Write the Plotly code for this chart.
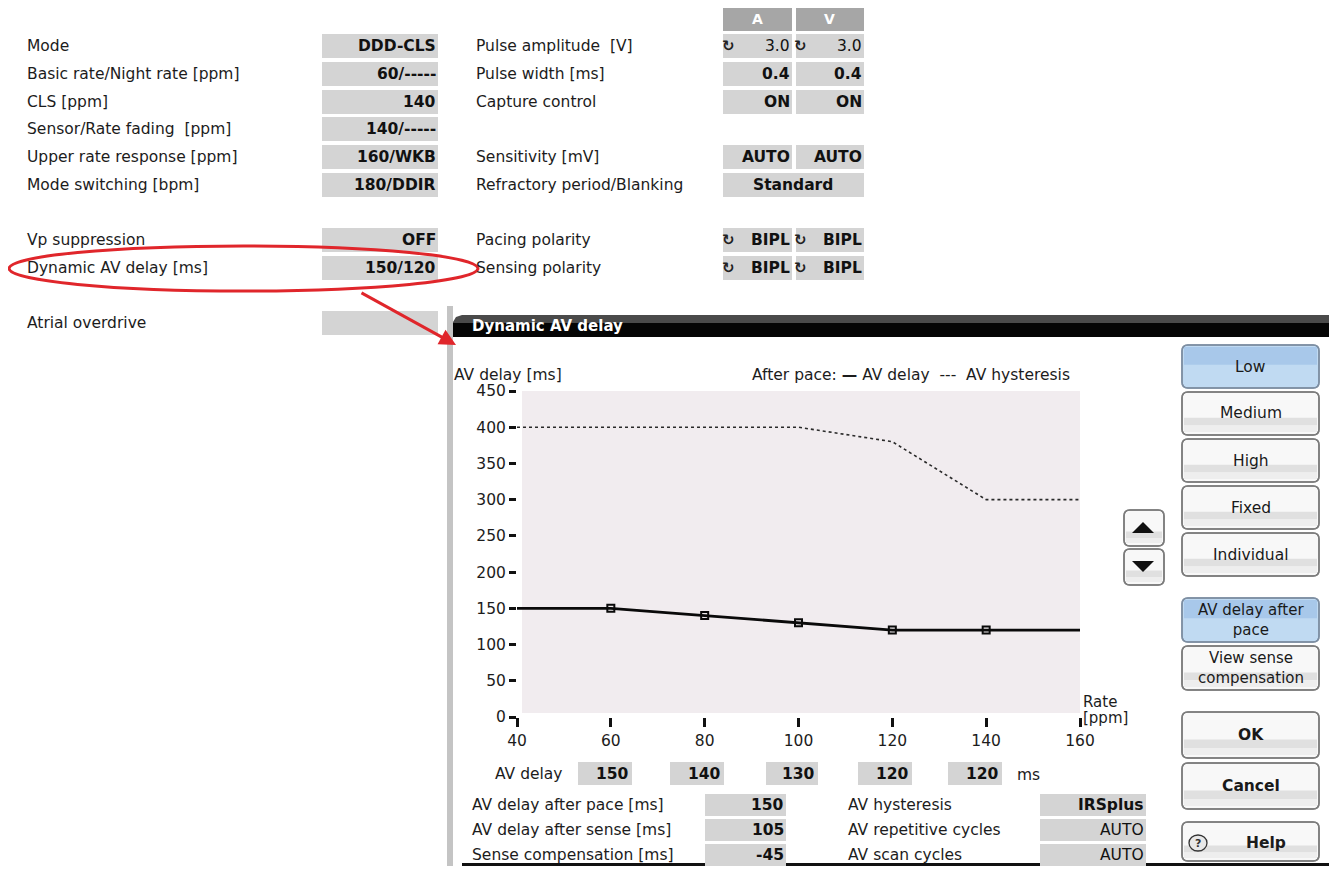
import plotly.graph_objects as go

# reference screenshot size is 1337x875; the page body has an 8px margin,
# so the figure is made 16px smaller and all reference pixels are shifted by 8.
REF_W, REF_H = 1337, 875
OX, OY = 8, 8
W, H = REF_W - 2 * OX, REF_H - 2 * OY - 1
FONT = "DejaVu Sans"
FS = 15.5

# ---------------- data ----------------
rates = [40, 60, 80, 100, 120, 140, 160]
av_delay = [150, 150, 140, 130, 120, 120, 120]
av_hysteresis = [400, 400, 400, 400, 380, 300, 300]
marker_rates = [60, 80, 100, 120, 140]

left_labels = ["Mode", "Basic rate/Night rate [ppm]", "CLS [ppm]", "Sensor/Rate fading  [ppm]",
               "Upper rate response [ppm]", "Mode switching [bpm]", "Vp suppression",
               "Dynamic AV delay [ms]", "Atrial overdrive"]
left_values = ["DDD-CLS", "60/-----", "140", "140/-----", "160/WKB", "180/DDIR", "OFF", "150/120", ""]
left_rows_y = [46, 74, 102, 129, 157, 185, 240, 268, 323]

mid_labels = ["Pulse amplitude  [V]", "Pulse width [ms]", "Capture control", "Sensitivity [mV]",
              "Refractory period/Blanking", "Pacing polarity", "Sensing polarity"]
mid_a = ["3.0", "0.4", "ON", "AUTO", "Standard", "BIPL", "BIPL"]
mid_v = ["3.0", "0.4", "ON", "AUTO", None, "BIPL", "BIPL"]
mid_bold = [False, True, True, True, True, True, True]
mid_icon = [True, False, False, False, False, True, True]
mid_rows_y = [46, 74, 102, 157, 185, 240, 268]

bottom_left_labels = ["AV delay after pace [ms]", "AV delay after sense [ms]", "Sense compensation [ms]"]
bottom_left_values = ["150", "105", "-45"]
bottom_right_labels = ["AV hysteresis", "AV repetitive cycles", "AV scan cycles"]
bottom_right_values = ["IRSplus", "AUTO", "AUTO"]
bottom_right_bold = [True, False, False]

buttons = ["Low", "Medium", "High", "Fixed", "Individual"]
view_buttons = ["AV delay after<br>pace", "View sense<br>compensation"]

# ---------------- helpers ----------------
def X(x):
    return (x - OX) / W

def Y(y):
    return 1 - (y - OY) / H

shapes = []
annotations = []

def rect(x0, y0, x1, y1, fill, line=None, lw=0, layer="below"):
    shapes.append(dict(type="rect", xref="paper", yref="paper", x0=X(x0), x1=X(x1), y0=Y(y1), y1=Y(y0),
                       fillcolor=fill, line=dict(color=line or fill, width=lw), layer=layer))

def rrect(x0, y0, x1, y1, r, fill, line, lw=1.5, layer="below"):
    p = (f"M {X(x0 + r)},{Y(y0)} L {X(x1 - r)},{Y(y0)} Q {X(x1)},{Y(y0)} {X(x1)},{Y(y0 + r)} "
         f"L {X(x1)},{Y(y1 - r)} Q {X(x1)},{Y(y1)} {X(x1 - r)},{Y(y1)} "
         f"L {X(x0 + r)},{Y(y1)} Q {X(x0)},{Y(y1)} {X(x0)},{Y(y1 - r)} "
         f"L {X(x0)},{Y(y0 + r)} Q {X(x0)},{Y(y0)} {X(x0 + r)},{Y(y0)} Z")
    shapes.append(dict(type="path", xref="paper", yref="paper", path=p, fillcolor=fill,
                       line=dict(color=line, width=lw), layer=layer))

def path(pts, fill, line=None, lw=0, layer="above"):
    p = "M " + " L ".join(f"{X(a)},{Y(b)}" for a, b in pts) + " Z"
    shapes.append(dict(type="path", xref="paper", yref="paper", path=p, fillcolor=fill,
                       line=dict(color=line or fill, width=lw), layer=layer))

def txt(x, y, s, anchor="left", size=FS, bold=False, color="#1c1c1c", family=FONT):
    if bold:
        s = "<b>" + s + "</b>"
    annotations.append(dict(x=X(x), y=Y(y), xref="paper", yref="paper", text=s, showarrow=False,
                            xanchor=anchor, yanchor="middle", align=anchor,
                            font=dict(size=size, color=color, family=family)))

BOX = "#d4d4d4"

# ---------------- left panel ----------------
for lab, val, y in zip(left_labels, left_values, left_rows_y):
    txt(25, y, lab)
    rect(322, y - 12, 438, y + 12, BOX)
    if val:
        txt(438, y, val, anchor="right", bold=True, color="#111")

# ---------------- middle panel ----------------
rect(723, 7, 792, 31, "#a6a6a6")
rect(796, 7, 864, 31, "#a6a6a6")
txt(757, 19, "A", anchor="center", size=14, bold=True, color="white")
txt(830, 19, "V", anchor="center", size=14, bold=True, color="white")
for lab, a, v, b, ic, y in zip(mid_labels, mid_a, mid_v, mid_bold, mid_icon, mid_rows_y):
    txt(474, y, lab)
    if v is None:
        rect(723, y - 12, 864, y + 12, BOX)
        txt(793, y, a, anchor="center", bold=True, color="#111")
    else:
        rect(723, y - 12, 792, y + 12, BOX)
        rect(796, y - 12, 864, y + 12, BOX)
        txt(792, y, a, anchor="right", bold=b, color="#111")
        txt(864, y, v, anchor="right", bold=b, color="#111")
        if ic:
            txt(720, y, "↻", anchor="left", size=15, bold=True, color="#222")
            txt(792, y, "↻", anchor="left", size=15, bold=True, color="#222")

# ---------------- red annotation ----------------
shapes.append(dict(type="circle", xref="paper", yref="paper", x0=X(9), x1=X(478), y0=Y(291), y1=Y(246),
                   line=dict(color="#e0262b", width=3), layer="above"))
annotations.append(dict(x=X(456), y=Y(345), xref="paper", yref="paper", ax=-96, ay=-53, text="",
                        showarrow=True, arrowhead=2, arrowsize=1.1, arrowwidth=3, arrowcolor="#e0262b"))

# ---------------- dialog frame ----------------
rect(447, 306, 453, 875, "#c4c4c4")
path([(453, 337), (453, 322), (456, 317), (462, 315), (1337, 315), (1337, 337)], "#4a4a4a", layer="below")
rect(453, 323, 1337, 337, "#050505")
txt(470, 326, "Dynamic AV delay", size=15, bold=True, color="white")
rect(462, 863, 1337, 866, "#111")

# chart background and texts
rect(522, 391, 1080, 713, "#f1ecef")
txt(452, 375, "AV delay [ms]")
txt(1072, 375, "After pace: <b>—</b> AV delay  ---  AV hysteresis", anchor="right")
txt(1081, 702, "Rate", size=15)
txt(1081, 718, "[ppm]", size=15)

# AV delay row under chart (values taken from the data)
box_x = {60: (578, 632), 80: (670, 724), 100: (766, 818), 120: (858, 912), 140: (948, 1002)}
txt(493, 774, "AV delay")
for r in marker_rates:
    x0, x1 = box_x[r]
    rect(x0, 762, x1, 785, BOX)
    txt(x1 - 1, 774, str(av_delay[rates.index(r)]), anchor="right", bold=True, color="#111")
txt(1015, 775, "ms")

# bottom table
for i, y in enumerate([805, 830, 855]):
    txt(470, y, bottom_left_labels[i])
    rect(705, y - 11, 786, y + 11, BOX)
    txt(786, y, bottom_left_values[i], anchor="right", bold=True, color="#111")
    txt(846, y, bottom_right_labels[i])
    rect(1040, y - 11, 1146, y + 11, BOX)
    txt(1146, y, bottom_right_values[i], anchor="right", bold=bottom_right_bold[i], color="#111")

# ---------------- buttons ----------------
def grey_button(x0, y0, x1, y1, label, bold=False, size=FS):
    h = y1 - y0
    rrect(x0, y0, x1, y1, 6, "#f8f8f8", "#7c7c7c", 1.5)
    rect(x0 + 2, y0 + h * 0.60, x1 - 2, y0 + h * 0.78, "#e0e0e0", layer="below")
    rect(x0 + 2, y0 + h * 0.78, x1 - 2, y1 - 3, "#eeeeee", layer="below")
    rrect(x0, y0, x1, y1, 6, "rgba(0,0,0,0)", "#7c7c7c", 1.5, layer="above")
    if label:
        txt((x0 + x1) / 2, (y0 + y1) / 2, label, anchor="center", size=size, bold=bold, color="#1a1a1a")

def blue_button(x0, y0, x1, y1, label, size=FS):
    rrect(x0, y0, x1, y1, 6, "#c0daf2", "#7d8ea2", 1.5)
    rect(x0 + 2, y0 + 2, x1 - 2, y0 + (y1 - y0) * 0.46, "#a8c8ea", layer="below")
    rrect(x0, y0, x1, y1, 6, "rgba(0,0,0,0)", "#7d8ea2", 1.5, layer="above")
    txt((x0 + x1) / 2, (y0 + y1) / 2, label, anchor="center", size=size, color="#1a1a1a")

btn_y = [345, 392, 439, 486, 533]
for i, (lab, y0) in enumerate(zip(buttons, btn_y)):
    if i == 0:
        blue_button(1182, y0, 1319, y0 + 43, lab)
    else:
        grey_button(1182, y0, 1319, y0 + 43, lab)

blue_button(1182, 598, 1319, 642, view_buttons[0], size=15)
grey_button(1182, 646, 1319, 690, view_buttons[1], size=15)
grey_button(1182, 712, 1319, 758, "OK", bold=True)
grey_button(1182, 763, 1319, 809, "Cancel", bold=True)
grey_button(1182, 822, 1319, 861, "")
txt(1266, 843, "Help", anchor="center", bold=True)
shapes.append(dict(type="circle", xref="paper", yref="paper", x0=X(1189), x1=X(1207), y0=Y(851), y1=Y(835),
                   fillcolor="#e8e8e8", line=dict(color="#333", width=1.3), layer="above"))
txt(1198, 843, "?", anchor="center", size=11, bold=True, color="#333")

# up/down arrow buttons
grey_button(1124, 510, 1164, 546, "")
grey_button(1124, 549, 1164, 585, "")
path([(1132, 533), (1154, 533), (1143, 522)], "#111")
path([(1132, 561), (1154, 561), (1143, 572)], "#111")

# ---------------- chart ----------------
fig = go.Figure()
fig.add_trace(go.Scatter(x=rates, y=av_hysteresis, mode="lines",
                         line=dict(color="#2a2a2a", width=1.6, dash="3px,3px"), hoverinfo="skip"))
fig.add_trace(go.Scatter(x=rates, y=av_delay, mode="lines",
                         line=dict(color="#0a0a0a", width=2.8), hoverinfo="skip"))
fig.add_trace(go.Scatter(x=marker_rates, y=[av_delay[rates.index(r)] for r in marker_rates], mode="markers",
                         marker=dict(symbol="square-open", size=7, color="#0a0a0a", line=dict(width=2)),
                         hoverinfo="skip"))

fig.update_layout(
    width=W, height=H, margin=dict(l=0, r=0, t=0, b=0), autosize=False,
    paper_bgcolor="white", plot_bgcolor="rgba(0,0,0,0)",
    showlegend=False,
    font=dict(family=FONT, size=FS, color="#1c1c1c"),
    shapes=shapes, annotations=annotations,
    xaxis=dict(domain=[X(517), X(1080)], range=[40, 160], tickvals=rates, ticks="outside",
               ticklen=9, tickwidth=3, tickcolor="#111", showgrid=False, zeroline=False, showline=False,
               tickfont=dict(size=FS, color="#1c1c1c"), fixedrange=True, automargin=False),
    yaxis=dict(domain=[Y(717), Y(391)], range=[0, 450], tickvals=list(range(0, 451, 50)), ticks="outside",
               ticklen=7, tickwidth=3, tickcolor="#111", showgrid=False, zeroline=False, showline=False,
               tickfont=dict(size=FS, color="#1c1c1c"), fixedrange=True, automargin=False),
)

fig.write_html("out.html")
